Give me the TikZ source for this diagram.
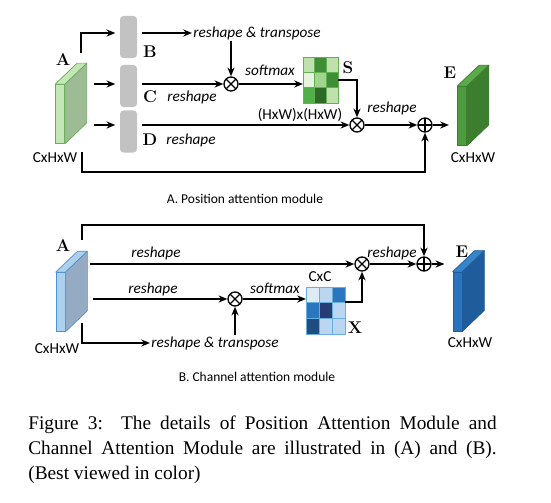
\documentclass[tikz,border=0pt]{standalone}
\usepackage{fontspec}
\usepackage{tikz}
\usetikzlibrary{arrows.meta, calc}
\newfontfamily\lblfont{Carlito}
\newfontfamily\capfont{Liberation Serif}
\definecolor{barGray}{HTML}{C2C2C2}
\definecolor{gAfront}{HTML}{C5E6B5}
\definecolor{gAside}{HTML}{9DBB95}
\definecolor{gAedge}{HTML}{6AAE5B}
\definecolor{gEfront}{HTML}{4C9C3D}
\definecolor{gEtop}{HTML}{5CAB4B}
\definecolor{gEside}{HTML}{3C7D30}
\definecolor{bAfront}{HTML}{ACD0EE}
\definecolor{bAside}{HTML}{94ABC3}
\definecolor{bAedge}{HTML}{4F92CF}
\definecolor{bEfront}{HTML}{2A74BE}
\definecolor{bEtop}{HTML}{3884C9}
\definecolor{bEside}{HTML}{1F5C9C}
\definecolor{sEdge}{HTML}{62B052}
\definecolor{sPale}{HTML}{E6F4DF}
\definecolor{sLight}{HTML}{BEE1AE}
\definecolor{sMid}{HTML}{A1D58E}
\definecolor{sGreen}{HTML}{52AE47}
\definecolor{sDark}{HTML}{3D8E34}
\definecolor{sDeep}{HTML}{2E6A27}
\definecolor{xEdge}{HTML}{6AAEE0}
\definecolor{xPale}{HTML}{DDEBF7}
\definecolor{xLight}{HTML}{BAD6F0}
\definecolor{xMid}{HTML}{2A77BF}
\definecolor{xNavy}{HTML}{263C72}
\definecolor{xDeep}{HTML}{1E4D80}
\tikzset{
  arrow/.style={-{Stealth[length=7.5pt,width=6pt]}, line width=1.4pt},
  bar/.style={fill=barGray, rounded corners=3pt, minimum width=0.51cm,
    minimum height=1.26cm, inner sep=0pt, outer sep=4pt},
  fmap/.style={draw=#1, line width=0.6pt, minimum width=0.27cm,
    minimum height=1.77cm, inner sep=0pt},
  mul/.style={circle, draw, line width=1.1pt, minimum size=0.42cm, inner sep=0pt,
    path picture={\draw[line width=1.1pt]
      (path picture bounding box.north west) -- (path picture bounding box.south east)
      (path picture bounding box.north east) -- (path picture bounding box.south west);}},
  add/.style={circle, draw, line width=1.1pt, minimum size=0.42cm, inner sep=0pt,
    path picture={\draw[line width=1.1pt]
      (path picture bounding box.north) -- (path picture bounding box.south)
      (path picture bounding box.west) -- (path picture bounding box.east);}},
  grid/.style={minimum width=#1, inner sep=0pt, outer sep=0pt},
  cell/.style={draw=#1, line width=0.8pt},
  lbl/.style={font=\lblfont\itshape\fontsize{13}{15}\selectfont, inner sep=1pt},
  dim/.style={font=\lblfont\fontsize{13}{15}\selectfont, inner sep=1pt},
  tag/.style={font=\fontsize{14.5}{16}\selectfont\bfseries, inner sep=0pt},
  panel/.style={font=\lblfont\fontsize{11.5}{13}\selectfont, inner sep=0pt}
}
\newcommand\fmapbody[4]{%
  \filldraw[draw=#4, fill=#3, line width=0.6pt, line join=round]
    (#1.north east) -- ++(22,-21) -- ($(#1.south east)+(22,-21)$) -- (#1.south east) -- cycle;
  \filldraw[draw=#4, fill=#2, line width=0.6pt, line join=round]
    (#1.north west) -- ++(22,-21) -- ($(#1.north east)+(22,-21)$) -- (#1.north east) -- cycle;
}

\begin{document}
\begin{tikzpicture}[x=0.03cm, y=-0.03cm]
  \useasboundingbox (0,0) rectangle (551,503);

  % A. position attention
  \node[fmap=gAedge, fill=gAfront] (pA) at (60,114) {};
  \fmapbody{pA}{gAfront}{gAside}{gAedge}
  \node[tag] (pAtag) at (63,60) {A};
  \node[dim] (pAdim) at (55,158) {CxHxW};

  \node[bar] (B) at (128.5,37) {};
  \node[bar] (C) at (128.5,86) {};
  \node[bar] (D) at (128.5,131.5) {};
  \node[tag] (Btag) at (150,52) {B};
  \node[tag] (Ctag) at (150,97) {C};
  \node[tag] (Dtag) at (150,140) {D};
  \node[lbl] (Cres) at (192,97) {reshape};
  \node[lbl] (Dres) at (191,140) {reshape};
  \node[lbl, anchor=west] (trA) at (192,33) {reshape \& transpose};

  \node[mul] (m1) at (231,84) {};
  \node[mul] (m2) at (357,125) {};
  \node[add] (p1) at (425,125) {};

  \node[grid=1.05cm, minimum height=1.38cm] (S) at (320.5,80) {};
  \foreach \r/\c/\col in {0/0/sLight, 0/1/sDark, 0/2/sLight,
                          1/0/sPale, 1/1/sMid, 1/2/sDark,
                          2/0/sGreen, 2/1/sDeep, 2/2/sLight}
    \filldraw[cell=sEdge, fill=\col] ($(S.north west)+(\c*11.667,\r*15.333)$) rectangle ++(11.667,15.333);
  \node[tag] (Stag) at (348,68) {S};
  \node[lbl] (smA) at (270,70) {softmax};
  \node[dim] (hw) at (300,115) {(HxW)x(HxW)};
  \node[lbl] (resA) at (392,108) {reshape};

  \node[fmap=gEside, fill=gEfront] (pE) at (462,116) {};
  \fmapbody{pE}{gEtop}{gEside}{gEside}
  \node[tag] (pEtag) at (450,73) {E};
  \node[dim] (pEdim) at (473,158) {CxHxW};

  \coordinate (aTop) at (81,53);
  \coordinate (aC) at (94,84);
  \coordinate (aD) at (94,125);
  \coordinate (aBot) at (82,152);
  \draw[arrow] (aTop) |- ([yshift=3.4pt]B.west);
  \draw[arrow] (aC) -- (aC -| C.west);
  \draw[arrow] (aD) -- (aD -| D.west);
  \draw[arrow] (B.east |- trA.west) -- (trA.west);
  \draw[arrow] (m1 |- trA.south) -- (m1);
  \draw[arrow] (C.east |- m1) -- (m1);
  \draw[arrow] (m1) -- (m1 -| S.west);
  \draw[arrow] (S.east) -| (m2);
  \draw[arrow] (D.east |- m2) -- (m2);
  \draw[arrow] (m2) -- (p1);
  \draw[arrow, shorten >=7pt] (p1) -- (p1 -| pE.west);
  \draw[arrow] (aBot) -- ++(0,20) -| (p1);
  \node[panel] (capA) at (245,199) {A. Position attention module};

  % B. channel attention
  \node[fmap=bAedge, fill=bAfront] (cA) at (60.5,302) {};
  \fmapbody{cA}{bAfront}{bAside}{bAedge}
  \node[tag] (cAtag) at (63,246) {A};
  \node[dim] (cAdim) at (57,349) {CxHxW};

  \node[mul] (m3) at (362,264) {};
  \node[mul] (m4) at (235,299) {};
  \node[add] (p2) at (424,264) {};
  \node[lbl] (res1) at (156,253) {reshape};
  \node[lbl] (res2) at (153,289) {reshape};
  \node[lbl, anchor=west] (trB) at (150,343) {reshape \& transpose};
  \node[lbl] (smB) at (275,288) {softmax};

  \node[grid=1.17cm, minimum height=1.41cm] (X) at (325.5,310.5) {};
  \foreach \r/\c/\col in {0/0/xPale, 0/1/xLight, 0/2/xMid,
                          1/0/xMid, 1/1/xNavy, 1/2/xLight,
                          2/0/xDeep, 2/1/xLight, 2/2/xLight}
    \filldraw[cell=xEdge, fill=\col] ($(X.north west)+(\c*13,\r*15.667)$) rectangle ++(13,15.667);
  \node[dim] (cc) at (320,277) {CxC};
  \node[tag] (Xtag) at (355,328) {X};
  \node[lbl] (resB) at (392,253) {reshape};

  \node[fmap=bEside, fill=bEfront] (cE) at (457.5,301.5) {};
  \fmapbody{cE}{bEtop}{bEside}{bEside}
  \node[tag] (cEtag) at (462,252) {E};
  \node[dim] (cEdim) at (470,343) {CxHxW};

  \coordinate (bTop) at (82,240);
  \coordinate (bR1) at (90,264);
  \coordinate (bR2) at (93,299);
  \coordinate (bR3) at (82,323);
  \draw[arrow] (bTop) -- ++(0,-15) -| (p2);
  \draw[arrow] (bR1) -- (m3);
  \draw[arrow] (bR2) -- (m4);
  \draw[arrow] (bR3) |- (trB.west);
  \draw[arrow] (m4 |- trB.north) -- (m4);
  \draw[arrow] (m4) -- (m4 -| X.west);
  \draw[arrow] ([yshift=7pt]X.east) -| (m3);
  \draw[arrow] (m3) -- (p2);
  \draw[arrow, shorten >=7pt] (p2) -- (p2 -| cE.west);
  \node[panel] (capB) at (257,377) {B. Channel attention module};

  \node[text width=14.05cm, align=justify, inner sep=0pt,
    font=\capfont\fontsize{16.5}{21.3}\selectfont] (fig) at (262.5,450)
    {Figure 3:\ \ The details of Position Attention Module and\linebreak
     Channel Attention Module are illustrated in (A) and (B).\linebreak
     (Best viewed in color)};
\end{tikzpicture}
\end{document}
